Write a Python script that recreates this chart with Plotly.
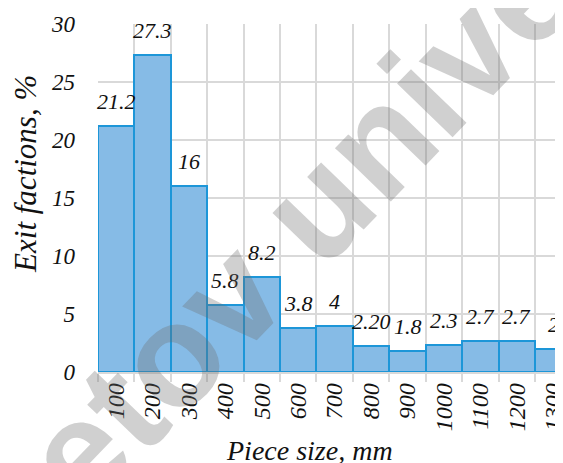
import plotly.graph_objects as go

# piece size classes (mm) and exit fractions (%)
sizes = ["100", "200", "300", "400", "500", "600", "700", "800", "900", "1000", "1100", "1200", "1300"]
fractions = [21.2, 27.3, 16, 5.8, 8.2, 3.8, 4, 2.2, 1.8, 2.3, 2.7, 2.7, 2]
value_labels = ["21.2", "27.3", "16", "5.8", "8.2", "3.8", "4", "2.20", "1.8", "2.3", "2.7", "2.7", "2"]

SERIF = "Liberation Serif"
GRID = "#d9d9d9"

fig = go.Figure(
    go.Bar(
        x=sizes,
        y=fractions,
        marker=dict(color="#86bbe6", line=dict(color="#1d96d8", width=2)),
        showlegend=False,
    )
)

# value labels above bars (x given as category index)
for i, (v, lab) in enumerate(zip(fractions, value_labels)):
    fig.add_annotation(
        x=i, y=v, text=lab, showarrow=False, yanchor="bottom", yshift=10,
        font=dict(family=SERIF, size=22, color="#111111", style="italic"),
    )

# watermark
fig.add_annotation(
    xref="paper", yref="paper", x=0.458, y=0.46,
    text="<b>Buketov university</b>", showarrow=False, textangle=-46,
    font=dict(family="Liberation Sans", size=146, color="rgba(110,110,110,0.32)"),
)

fig.add_annotation(
    xref="paper", yref="paper", x=-0.155, y=0.569, xanchor="center", yanchor="middle",
    text="Exit factions, %", showarrow=False, textangle=-90,
    font=dict(family=SERIF, size=31, color="#111111", style="italic"),
)
fig.add_annotation(
    xref="paper", yref="paper", x=0.455, y=-0.225, xanchor="center", yanchor="middle",
    text="Piece size, mm", showarrow=False,
    font=dict(family=SERIF, size=28, color="#111111", style="italic"),
)

fig.update_xaxes(
    range=[-0.5, 12.27],
    automargin=False,
    tickson="boundaries",
    ticks="outside", ticklen=8, tickwidth=1.5, tickcolor=GRID,
    showgrid=True, gridcolor=GRID, gridwidth=1.5,
    showline=True, linecolor=GRID, linewidth=1.5,
    tickangle=-90,
    tickfont=dict(family=SERIF, size=24, color="#111111", style="italic"),
)
fig.update_yaxes(
    range=[0, 30], dtick=5,
    automargin=False,
    showgrid=True, gridcolor=GRID, gridwidth=1.5,
    zeroline=False,
    ticklabelstandoff=22,
    tickfont=dict(family=SERIF, size=23, color="#111111", style="italic"),
)
# page body adds an 8px offset, so the figure is 8px smaller than the window
fig.update_layout(
    width=555, height=455,
    margin=dict(l=90, r=0, t=16, b=91),
    bargap=0,
    plot_bgcolor="white", paper_bgcolor="white",
)

fig.write_html("out.html")
